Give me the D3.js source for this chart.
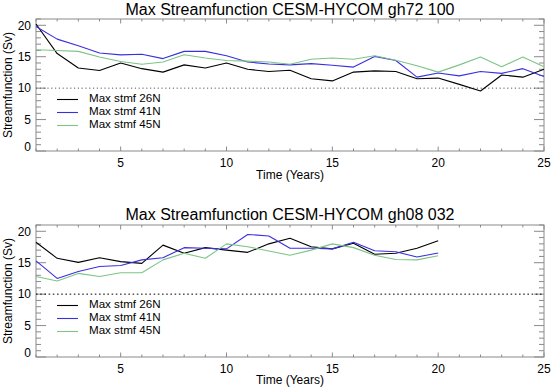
<!DOCTYPE html>
<html>
<head>
<meta charset="utf-8">
<script src="https://cdn.jsdelivr.net/npm/d3@7"></script>
<style>
  body { margin: 0; background: #fff; }
  svg { display: block; }
  text { font-family: "Liberation Sans", Arial, Helvetica, sans-serif; fill: #000; }
</style>
</head>
<body>
<svg id="chart" width="551" height="390"></svg>
<script>
// ---- data ----
const yearsTop = d3.range(1, 26);
const yearsBottom = d3.range(1, 21);
const seriesNames = ["Max stmf 26N", "Max stmf 41N", "Max stmf 45N"];
const seriesColors = ["#000000", "#3a2fe0", "#7cc487"];
const titles = ["Max Streamfunction CESM-HYCOM gh72 100", "Max Streamfunction CESM-HYCOM gh08 032"];
const xTicks = [5, 10, 15, 20, 25];
const yTicks = [0, 5, 10, 15, 20];
const refLevel = 10;

const top26 = [20.2, 15.5, 13.2, 12.8, 14.0, 13.1, 12.55, 13.7, 13.2, 14.0, 13.0, 12.65, 12.85,
               11.5, 11.15, 12.55, 12.75, 12.65, 11.5, 11.6, 10.6, 9.55, 12.1, 11.75, 13.0];
const top41 = [19.8, 17.8, 16.75, 15.6, 15.3, 15.4, 14.7, 15.85, 15.85, 15.15, 14.15, 13.85, 13.7,
               13.9, 13.65, 13.35, 15.05, 14.4, 11.75, 12.4, 11.95, 12.65, 12.35, 13.1, 11.85];
const top45 = [16.1, 16.0, 15.85, 14.95, 14.25, 13.8, 14.15, 15.3, 14.8, 14.4, 14.3, 14.15, 13.8,
               14.6, 14.8, 14.6, 15.15, 14.45, 13.55, 12.55, 13.7, 14.95, 13.4, 14.95, 13.4];

const bot26 = [18.25, 15.7, 15.05, 15.8, 15.17, 14.9, 17.8, 16.5, 17.4, 17.0, 16.65, 18.0, 18.9,
               17.55, 17.2, 18.1, 16.35, 16.5, 17.3, 18.5];
const bot41 = [15.3, 12.5, 13.6, 14.4, 14.55, 15.45, 15.8, 17.4, 17.3, 17.2, 19.5, 19.25, 17.3,
               17.3, 17.2, 18.25, 16.9, 16.75, 15.9, 16.55];
const bot45 = [12.8, 12.1, 13.3, 12.8, 13.4, 13.4, 15.45, 16.5, 15.7, 18.0, 17.55, 16.85, 16.2,
               17.0, 18.0, 17.4, 16.2, 15.5, 15.45, 16.1];

const panels = [
  { title: titles[0], years: yearsTop, series: [top26, top41, top45],
    top: 19, bottom: 151, titleY: 15, xLabY: 166.5, timeY: 178.5,
    legLines: [99.5, 112.5, 125.5], legText: [101.5, 114.5, 127.5], dash: "1.2,2.6", dashColor: "#555" },
  { title: titles[1], years: yearsBottom, series: [bot26, bot41, bot45],
    top: 225, bottom: 357, titleY: 220, xLabY: 373, timeY: 383.5,
    legLines: [305.5, 318.5, 331.5], legText: [307.5, 320.5, 333.5], dash: "1.6,2.6", dashColor: "#000" }
];

const svg = d3.select("#chart");
const left = 36, right = 544;
const frameColor = "#8a8a8a";

panels.forEach(p => {
  const g = svg.append("g");
  const x = d3.scaleLinear().domain([1, 25]).range([left, right]);
  const y = d3.scaleLinear().domain([0, 21]).range([p.bottom, p.top]);

  // title
  g.append("text").attr("x", (left + right) / 2).attr("y", p.titleY)
    .attr("text-anchor", "middle").style("font-size", "16px").text(p.title);

  // frame
  g.append("rect").attr("x", left).attr("y", p.top)
    .attr("width", right - left).attr("height", p.bottom - p.top)
    .attr("fill", "none").attr("stroke", frameColor).attr("stroke-width", 1);

  // x ticks (bottom & top, inward)
  const xMinor = d3.range(1, 26);
  const xl = v => (xTicks.includes(v) ? 4.5 : 2.5);
  g.append("g").selectAll("line").data(xMinor).join("line")
    .attr("x1", d => x(d)).attr("x2", d => x(d))
    .attr("y1", p.bottom).attr("y2", d => p.bottom - xl(d))
    .attr("stroke", frameColor);
  g.append("g").selectAll("line").data(xMinor).join("line")
    .attr("x1", d => x(d)).attr("x2", d => x(d))
    .attr("y1", p.top).attr("y2", d => p.top + xl(d))
    .attr("stroke", frameColor);

  // y ticks (left & right, inward)
  const yMinor = d3.range(0, 22);
  const yl = v => (yTicks.includes(v) ? 10 : 5);
  g.append("g").selectAll("line").data(yMinor).join("line")
    .attr("y1", d => y(d)).attr("y2", d => y(d))
    .attr("x1", left).attr("x2", d => left + yl(d))
    .attr("stroke", frameColor);
  g.append("g").selectAll("line").data(yMinor).join("line")
    .attr("y1", d => y(d)).attr("y2", d => y(d))
    .attr("x1", right).attr("x2", d => right - yl(d))
    .attr("stroke", frameColor);

  // tick labels
  g.append("g").selectAll("text").data(xTicks).join("text")
    .attr("x", d => x(d)).attr("y", p.xLabY).attr("text-anchor", "middle")
    .style("font-size", "12px").text(d => d);
  g.append("g").selectAll("text").data(yTicks).join("text")
    .attr("x", 31).attr("y", d => y(d) + (d === 0 ? 0 : 4.3)).attr("text-anchor", "end")
    .style("font-size", "12px").text(d => d);

  // axis titles
  g.append("text").attr("x", (left + right) / 2).attr("y", p.timeY)
    .attr("text-anchor", "middle").style("font-size", "12px").text("Time (Years)");
  g.append("text")
    .attr("transform", `translate(11.5,${(p.top + p.bottom) / 2}) rotate(-90)`)
    .attr("text-anchor", "middle").style("font-size", "12px").text("Streamfunction (Sv)");

  // reference dotted line
  g.append("line").attr("x1", x(1)).attr("x2", x(25))
    .attr("y1", y(refLevel)).attr("y2", y(refLevel))
    .attr("stroke", p.dashColor).attr("stroke-dasharray", p.dash).attr("stroke-width", 1);

  // series
  const line = d3.line().x((d, i) => x(p.years[i])).y(d => y(d));
  p.series.forEach((s, k) => {
    g.append("path").datum(s).attr("d", line)
      .attr("fill", "none").attr("stroke", seriesColors[k]).attr("stroke-width", 1.1)
      .attr("stroke-linejoin", "round");
  });

  // legend
  seriesNames.forEach((name, k) => {
    g.append("line").attr("x1", 57).attr("x2", 78)
      .attr("y1", p.legLines[k]).attr("y2", p.legLines[k])
      .attr("stroke", seriesColors[k]).attr("stroke-width", 1.1);
    g.append("text").attr("x", 89).attr("y", p.legText[k])
      .style("font-size", "11.6px").text(name);
  });
});
</script>
</body>
</html>
